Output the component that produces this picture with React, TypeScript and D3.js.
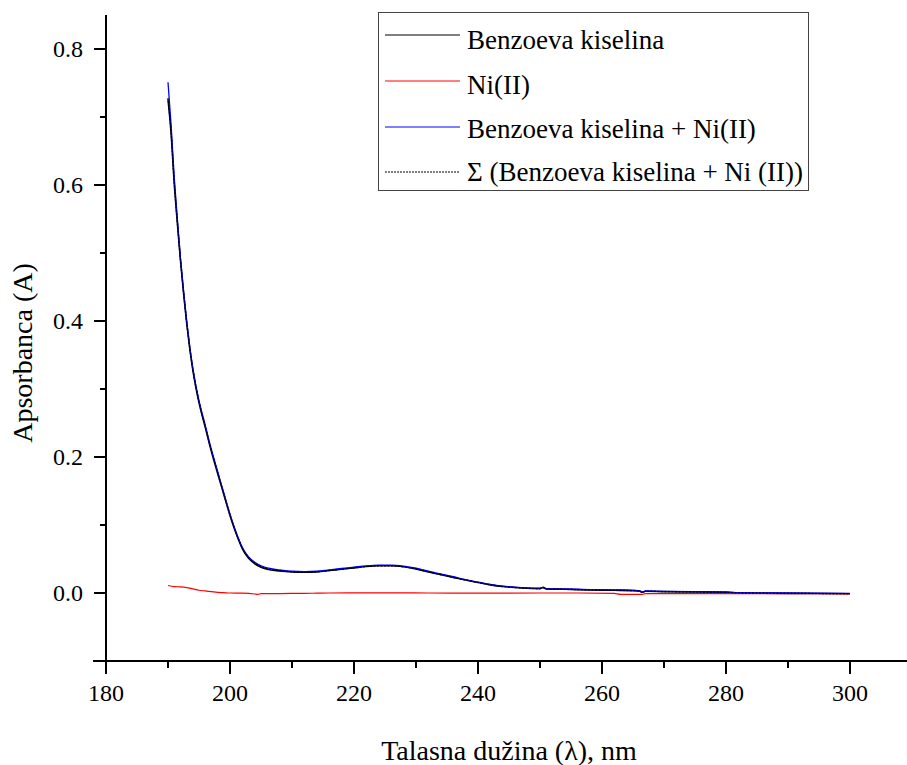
import React from "react";
import * as d3 from "d3";

// ---- data ----
const lambdas = [190, 190.5, 191, 191.5, 192, 192.5, 193, 193.5, 194, 194.5, 195, 196, 197, 198, 199, 200, 201, 202, 203, 204, 205, 206, 208, 210, 212, 214, 216, 218, 220, 222, 224, 226, 228, 230, 232, 234, 236, 238, 240, 242, 244, 246, 248, 250, 250.5, 251, 254, 258, 262, 265, 266, 266.5, 267, 270, 275, 280, 282, 290, 300];

const benzoeva = [0.726, 0.676, 0.603, 0.545, 0.49, 0.442, 0.398, 0.36, 0.328, 0.302, 0.280, 0.244, 0.208, 0.176, 0.145, 0.114, 0.087, 0.065, 0.051, 0.043, 0.038, 0.035, 0.0325, 0.031, 0.0305, 0.031, 0.033, 0.035, 0.037, 0.039, 0.040, 0.040, 0.0385, 0.0355, 0.031, 0.027, 0.023, 0.019, 0.0155, 0.012, 0.0095, 0.008, 0.007, 0.0065, 0.008, 0.006, 0.0055, 0.0045, 0.004, 0.0035, 0.003, 0.001, 0.0025, 0.002, 0.0015, 0.001, 0.0, -0.0005, -0.001];

const benzoevaNi = [0.751, 0.688, 0.612, 0.551, 0.494, 0.445, 0.401, 0.363, 0.331, 0.305, 0.283, 0.247, 0.211, 0.179, 0.147, 0.116, 0.089, 0.067, 0.053, 0.045, 0.040, 0.037, 0.034, 0.032, 0.0315, 0.032, 0.034, 0.036, 0.038, 0.040, 0.041, 0.041, 0.0395, 0.0365, 0.032, 0.028, 0.024, 0.0195, 0.016, 0.0125, 0.010, 0.0085, 0.0075, 0.007, 0.0085, 0.0065, 0.006, 0.005, 0.0045, 0.004, 0.0035, 0.0015, 0.003, 0.0025, 0.002, 0.0015, 0.0005, 0.0, -0.0005];

const sumSeries = [0.728, 0.677, 0.604, 0.546, 0.491, 0.443, 0.399, 0.361, 0.329, 0.303, 0.281, 0.245, 0.209, 0.177, 0.146, 0.115, 0.088, 0.066, 0.052, 0.044, 0.039, 0.036, 0.033, 0.031, 0.0305, 0.031, 0.033, 0.035, 0.037, 0.039, 0.040, 0.040, 0.0385, 0.0355, 0.031, 0.027, 0.023, 0.019, 0.0155, 0.012, 0.0095, 0.008, 0.007, 0.0065, 0.008, 0.006, 0.0055, 0.0045, 0.004, 0.0035, 0.003, 0.001, 0.0025, 0.002, 0.0015, 0.001, 0.0, -0.0005, -0.001];

const niLambdas = [190, 191, 192, 193, 194, 195, 196, 197, 198, 199, 200, 202, 204, 204.5, 205, 208, 212, 216, 220, 226, 232, 240, 250, 256, 262, 263, 266.5, 267, 280, 290, 300];
const niValues = [0.011, 0.0095, 0.009, 0.008, 0.006, 0.004, 0.003, 0.002, 0.001, 0.0005, 0.0, -0.0003, -0.0015, -0.002, -0.001, -0.0008, -0.0005, 0.0, 0.0003, 0.0003, 0.0, -0.0002, 0.0, 0.0, -0.0005, -0.002, -0.002, -0.001, -0.0008, -0.001, -0.0012];

const xMajorTicks = [180, 200, 220, 240, 260, 280, 300];
const xMinorTicks = [190, 210, 230, 250, 270, 290];
const yMajorTicks = [0.0, 0.2, 0.4, 0.6, 0.8];
const yMinorTicks = [-0.1, 0.1, 0.3, 0.5, 0.7];

const legendLabels = [
  "Benzoeva kiselina",
  "Ni(II)",
  "Benzoeva kiselina + Ni(II)",
  "\u03A3 (Benzoeva kiselina + Ni (II))",
];

const FONT = "Liberation Serif";
const tStyle = { fontFamily: FONT };

export default function App() {
  const W = 907;
  const H = 765;
  const left = 106;
  const x = d3.scaleLinear().domain([180, 310]).range([left, left + 806]);
  const y = d3.scaleLinear().domain([-0.1, 0.85]).range([661, 15]);

  const mk = (xs: number[], vs: number[]) =>
    d3
      .line<number>()
      .x((_, i) => x(xs[i]))
      .y((v) => y(v))
      .curve(d3.curveMonotoneX)(vs) || "";

  const series = [
    { d: mk(lambdas, benzoeva), color: "#000000", dash: undefined as string | undefined, w: 1.6 },
    { d: mk(niLambdas, niValues), color: "#ff0000", dash: undefined, w: 1.2 },
    { d: mk(lambdas, benzoevaNi), color: "#0000ff", dash: undefined, w: 1.3 },
    { d: mk(lambdas, sumSeries), color: "#000000", dash: "2,1.5", w: 1.2 },
  ];

  const legendColors = ["#000000", "#ff0000", "#0000ff", "#000000"];
  const legendDash = [undefined, undefined, undefined, "2,1"];
  const legendLinesY = [35, 81, 127, 172];
  const legendTextY = [49, 94, 138, 181];

  return (
    <svg
      width={W}
      height={H}
      style={{ position: "absolute", left: 0, top: 0, background: "#fff", fontFamily: FONT }}
    >
      <rect x={0} y={0} width={W} height={H} fill="#fff" />
      {series.map((s, i) => (
        <path
          key={i}
          d={s.d}
          fill="none"
          stroke={s.color}
          strokeWidth={s.w}
          strokeDasharray={s.dash}
        />
      ))}

      {/* y axis */}
      <line x1={left} x2={left} y1={y(0.85)} y2={674} stroke="#000" strokeWidth={2} />
      {yMajorTicks.map((t) => (
        <g key={"ym" + t}>
          <line x1={left - 12} x2={left} y1={y(t)} y2={y(t)} stroke="#000" strokeWidth={2} />
          <text x={83} y={y(t) + 8} textAnchor="end" fontSize={24} style={tStyle}>
            {t.toFixed(1)}
          </text>
        </g>
      ))}
      {yMinorTicks.map((t) => (
        <line
          key={"yn" + t}
          x1={t === -0.1 ? left - 13 : left - 6}
          x2={left}
          y1={y(t)}
          y2={y(t)}
          stroke="#000"
          strokeWidth={2}
        />
      ))}

      {/* x axis */}
      <line x1={left} x2={W} y1={y(-0.1)} y2={y(-0.1)} stroke="#000" strokeWidth={2} />
      {xMajorTicks.map((t) => (
        <g key={"xm" + t}>
          <line x1={x(t)} x2={x(t)} y1={y(-0.1)} y2={y(-0.1) + 13} stroke="#000" strokeWidth={2} />
          <text x={x(t)} y={701} textAnchor="middle" fontSize={24} style={tStyle}>
            {t}
          </text>
        </g>
      ))}
      {xMinorTicks.map((t) => (
        <line key={"xn" + t} x1={x(t)} x2={x(t)} y1={y(-0.1)} y2={y(-0.1) + 7} stroke="#000" strokeWidth={2} />
      ))}

      {/* axis titles */}
      <text x={509} y={760} textAnchor="middle" fontSize={28} style={tStyle}>
        Talasna dužina (λ), nm
      </text>
      <text
        transform={`translate(32, 353) rotate(-90)`}
        textAnchor="middle"
        fontSize={28}
        style={tStyle}
      >
        Apsorbanca (A)
      </text>

      {/* legend */}
      <rect x={378.5} y={12.5} width={430} height={178} fill="#fff" stroke="#444" strokeWidth={1} />
      {legendLabels.map((lab, i) => (
        <g key={lab}>
          <line
            x1={385}
            x2={460}
            y1={legendLinesY[i]}
            y2={legendLinesY[i]}
            stroke={legendColors[i]}
            strokeWidth={1}
            strokeDasharray={legendDash[i]}
          />
          <text x={467} y={legendTextY[i]} fontSize={27} style={tStyle}>
            {lab}
          </text>
        </g>
      ))}
    </svg>
  );
}
